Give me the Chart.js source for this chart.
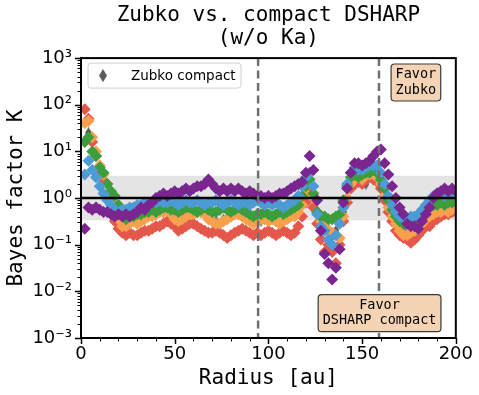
<!DOCTYPE html>
<html>
<head>
<meta charset="utf-8">
<script src="https://cdn.jsdelivr.net/npm/chart.js@4.4.1/dist/chart.umd.min.js"></script>
<style>
  html, body { margin: 0; padding: 0; background: #fff; }
</style>
</head>
<body>
<canvas id="bayesChart" width="479" height="395"></canvas>
<script>
// Radius grid [au] shared by the coloured series
const radius = [2,4,6,8,10,12,14,16,18,20,22,24,26,28,30,32,34,36,38,40,
  42,44,46,48,50,52,54,56,58,60,62,64,66,68,70,72,74,76,78,80,
  82,84,86,88,90,92,94,96,98,100,102,104,106,108,110,112,114,116,118,120,
  122,124,126,128,130,132,134,136,138,140,142,144,146,148,150,152,154,156,158,160,
  162,164,166,168,170,172,174,176,178,180,182,184,186,188,190,192,194,196,198,200];

// Bayes factor K per series
const redK = [80,50,16,8,4,2.2,1.1,0.56,0.32,0.22,
  0.18,0.16,0.18,0.16,0.16,0.18,0.2,0.2,0.22,0.25,
  0.25,0.28,0.32,0.28,0.25,0.2,0.22,0.25,0.28,0.28,
  0.25,0.22,0.2,0.18,0.18,0.2,0.18,0.16,0.14,0.16,
  0.18,0.2,0.22,0.2,0.18,0.16,0.18,0.16,0.18,0.2,
  0.18,0.16,0.18,0.2,0.18,0.16,0.18,0.25,0.4,0.8,
  1.25,0.63,0.28,0.13,0.07,0.1,0.07,0.04,0.1,0.32,
  0.8,1.6,2.0,2.2,2.0,2.5,2.8,2.5,2.2,1.6,
  0.9,0.5,0.32,0.2,0.16,0.14,0.13,0.11,0.13,0.16,
  0.2,0.25,0.25,0.32,0.35,0.4,0.45,0.45,0.5,0.5];

const orangeK = [40,45,20,10,5,3.2,2.0,1.25,0.71,0.35,
  0.25,0.25,0.28,0.32,0.28,0.32,0.35,0.4,0.4,0.45,
  0.5,0.5,0.56,0.45,0.35,0.32,0.35,0.4,0.45,0.45,
  0.5,0.5,0.45,0.35,0.32,0.28,0.28,0.32,0.35,0.4,
  0.45,0.45,0.4,0.35,0.32,0.28,0.32,0.35,0.35,0.32,
  0.35,0.32,0.28,0.32,0.35,0.4,0.4,0.5,0.71,1.25,
  2.0,1.0,0.5,0.32,0.25,0.2,0.18,0.16,0.14,0.4,
  1.0,2.0,2.5,2.8,2.5,3.2,3.2,3.2,2.8,2.0,
  1.1,0.63,0.4,0.28,0.2,0.16,0.16,0.18,0.2,0.22,
  0.28,0.35,0.4,0.45,0.5,0.5,0.56,0.5,0.56,0.63];

const greenK = [16,20,10,8,4.5,3.5,2.0,1.4,1.1,0.71,
  0.45,0.35,0.4,0.4,0.45,0.45,0.5,0.5,0.56,0.5,
  0.56,0.63,0.63,0.56,0.56,0.5,0.56,0.63,0.63,0.56,
  0.5,0.56,0.63,0.56,0.5,0.5,0.56,0.63,0.56,0.5,
  0.56,0.63,0.56,0.5,0.45,0.4,0.45,0.45,0.5,0.45,
  0.4,0.45,0.5,0.45,0.5,0.56,0.63,0.71,1.1,1.8,
  2.5,1.25,0.5,0.4,0.4,0.35,0.35,0.4,0.45,0.9,
  1.8,2.8,3.2,2.8,3.2,3.5,3.5,4.0,3.5,2.5,
  1.6,0.9,0.56,0.4,0.32,0.28,0.28,0.32,0.35,0.4,
  0.5,0.56,0.63,0.71,0.71,0.8,0.71,0.8,0.8,0.9];

const blueK = [3.2,6.3,4.0,2.8,1.8,1.25,0.9,0.71,0.56,0.5,
  0.56,0.56,0.63,0.63,0.71,0.71,0.8,0.71,0.8,0.8,
  0.9,0.8,0.8,0.9,0.8,0.71,0.8,0.9,0.8,0.8,
  0.9,0.8,0.71,0.8,0.8,0.9,0.8,0.71,0.8,0.9,
  0.8,0.71,0.8,0.8,0.71,0.8,0.9,0.8,0.71,0.8,
  0.71,0.8,0.71,0.63,0.71,0.8,0.9,1.1,1.8,2.8,
  3.5,1.8,0.45,0.25,0.2,0.13,0.1,0.16,0.28,0.63,
  2.0,3.5,4.5,4.0,4.0,4.5,5.0,5.0,5.0,3.5,
  2.0,1.1,0.71,0.5,0.4,0.35,0.35,0.4,0.4,0.45,
  0.56,0.71,0.9,1.1,1.25,1.25,1.1,1.25,1.25,1.1];

const purpleK = [0.22,0.63,0.56,0.63,0.56,0.5,0.5,0.45,0.4,0.45,
  0.4,0.45,0.4,0.45,0.5,0.63,0.56,0.71,0.8,1.0,
  1.1,1.25,1.1,1.25,1.4,1.25,1.4,1.6,1.4,1.6,
  1.8,1.8,2.0,2.5,2.0,1.6,1.4,1.6,1.4,1.6,
  1.4,1.6,1.4,1.25,1.4,1.25,1.1,1.1,1.0,1.1,
  1.0,1.1,1.25,1.25,1.4,1.6,1.8,2.0,2.2,3.5,
  8.0,4.0,0.9,0.2,0.063,0.04,0.018,0.032,0.08,0.8,
  1.6,3.5,5.6,5.6,5.0,5.6,6.3,8.0,10,11,
  5.6,3.2,1.8,1.0,0.63,0.45,0.28,0.25,0.25,0.22,
  0.32,0.45,0.63,1.0,1.25,1.4,1.6,1.4,1.6,1.4];

// Zubko compact (dark small diamonds, mostly hidden behind the others)
const blackRadius = [4,8,12,16,20,24,28,32,36,40,44,48,52,56,60,64,68,72,76,80,
  84,88,92,96,100,104,108,112,116,120,124,128,132,136,140,144,148,152,156,160,
  164,168,172,176,180,184,188,192,196,200];
const blackK = [25,10,2.8,1.25,0.5,0.28,0.32,0.35,0.4,0.45,
  0.5,0.45,0.35,0.45,0.45,0.5,0.4,0.32,0.35,0.4,
  0.45,0.35,0.32,0.32,0.35,0.32,0.32,0.4,0.56,1.25,
  1.0,0.32,0.22,0.2,0.5,1.8,2.2,2.0,2.5,1.8,
  0.63,0.32,0.2,0.2,0.25,0.35,0.45,0.45,0.5,0.56];

// reference lines / regions
const bandLow = 1 / 3;
const bandHigh = 3;
const unityK = 1;
const dashedRadii = [94.5, 159];
const yTickPowers = [-3, -2, -1, 0, 1, 2, 3];

// annotation boxes (data coordinates of their centres)
const notes = [
  { lines: ['Favor', 'Zubko'], x: 178.7, y: 300 },
  { lines: ['Favor', 'DSHARP compact'], x: 159.3, y: 0.0034 }
];

const SUP = { '-': '\u207B', '0': '\u2070', '1': '\u00B9', '2': '\u00B2', '3': '\u00B3' };

function toPoints(xs, ys) {
  return xs.map((r, i) => ({ x: r, y: ys[i] }));
}

function thinDiamond(w, h, fill) {
  const c = document.createElement('canvas');
  c.width = w; c.height = h;
  const g = c.getContext('2d');
  g.fillStyle = fill;
  g.beginPath();
  g.moveTo(w / 2, 0);
  g.lineTo(w, h / 2);
  g.lineTo(w / 2, h);
  g.lineTo(0, h / 2);
  g.closePath();
  g.fill();
  return c;
}

const blackMarker = thinDiamond(7, 11, 'rgba(55,55,55,0.85)');

function series(label, xs, ys, color, order) {
  return {
    label: label,
    data: toPoints(xs, ys),
    backgroundColor: color,
    borderWidth: 0,
    pointStyle: 'rectRot',
    pointRadius: 6,
    pointHoverRadius: 6,
    order: order
  };
}

function roundRect(ctx, x, y, w, h, r) {
  ctx.beginPath();
  ctx.moveTo(x + r, y);
  ctx.lineTo(x + w - r, y);
  ctx.arcTo(x + w, y, x + w, y + r, r);
  ctx.lineTo(x + w, y + h - r);
  ctx.arcTo(x + w, y + h, x + w - r, y + h, r);
  ctx.lineTo(x + r, y + h);
  ctx.arcTo(x, y + h, x, y + h - r, r);
  ctx.lineTo(x, y + r);
  ctx.arcTo(x, y, x + r, y, r);
  ctx.closePath();
}

const decorPlugin = {
  id: 'decor',
  beforeDatasetsDraw(chart) {
    const { ctx, chartArea: a, scales: { y } } = chart;
    const top = y.getPixelForValue(bandHigh);
    const bot = y.getPixelForValue(bandLow);
    ctx.save();
    ctx.fillStyle = '#e4e4e4';
    ctx.fillRect(a.left, top, a.right - a.left, bot - top);
    ctx.restore();
  },
  afterDatasetsDraw(chart) {
    const { ctx, chartArea: a, scales: { x, y } } = chart;
    ctx.save();
    // K = 1
    const y1 = y.getPixelForValue(unityK);
    ctx.strokeStyle = '#000';
    ctx.lineWidth = 2.5;
    ctx.beginPath();
    ctx.moveTo(a.left, y1);
    ctx.lineTo(a.right, y1);
    ctx.stroke();
    // dashed verticals
    ctx.strokeStyle = '#707070';
    ctx.lineWidth = 2.5;
    ctx.setLineDash([8, 4.5]);
    dashedRadii.forEach((r) => {
      const px = x.getPixelForValue(r);
      ctx.beginPath();
      ctx.moveTo(px, a.top);
      ctx.lineTo(px, a.bottom);
      ctx.stroke();
    });
    ctx.restore();
  },
  afterDraw(chart) {
    const { ctx, chartArea: a, scales: { x, y } } = chart;
    ctx.save();

    // ticks (outward, matplotlib style)
    ctx.strokeStyle = '#000';
    for (let v = 0; v <= 200; v += 10) {
      const px = Math.round(x.getPixelForValue(v)) + 0.5;
      const major = v % 50 === 0;
      ctx.lineWidth = major ? 1.5 : 1;
      ctx.beginPath();
      ctx.moveTo(px, a.bottom);
      ctx.lineTo(px, a.bottom + (major ? 6 : 3.5));
      ctx.stroke();
    }
    for (let p = -3; p <= 3; p++) {
      for (let m = 1; m <= 9; m++) {
        if (p === 3 && m > 1) break;
        const py = Math.round(y.getPixelForValue(m * Math.pow(10, p))) + 0.5;
        const major = m === 1;
        ctx.lineWidth = major ? 1.5 : 1;
        ctx.beginPath();
        ctx.moveTo(a.left, py);
        ctx.lineTo(a.left - (major ? 6 : 3.5), py);
        ctx.stroke();
      }
    }

    // spines
    ctx.lineWidth = 2;
    ctx.strokeRect(a.left, a.top, a.right - a.left, a.bottom - a.top);

    // legend
    const lx = a.left + 7, ly = a.top + 5, lw = 153, lh = 25;
    roundRect(ctx, lx, ly, lw, lh, 3);
    ctx.fillStyle = 'rgba(255,255,255,0.85)';
    ctx.fill();
    ctx.lineWidth = 1;
    ctx.strokeStyle = '#d0d0d0';
    ctx.stroke();
    const mk = thinDiamond(8, 13, '#5a5a5a');
    ctx.drawImage(mk, lx + 11, ly + lh / 2 - 6.5);
    ctx.fillStyle = '#000';
    ctx.font = '13.5px "DejaVu Sans"';
    ctx.textAlign = 'left';
    ctx.textBaseline = 'middle';
    ctx.fillText('Zubko compact', lx + 43, ly + lh / 2 + 0.5);

    // annotation boxes
    ctx.font = '13.5px "DejaVu Sans Mono"';
    ctx.textAlign = 'center';
    notes.forEach((n) => {
      const cx = x.getPixelForValue(n.x);
      const cy = y.getPixelForValue(n.y);
      const lineH = 15.5;
      const tw = Math.max(...n.lines.map((t) => ctx.measureText(t).width));
      const bw = tw + 9, bh = n.lines.length * lineH + 6;
      roundRect(ctx, cx - bw / 2, cy - bh / 2, bw, bh, 3.5);
      ctx.fillStyle = '#f5d3b5';
      ctx.fill();
      ctx.strokeStyle = '#3a3a3a';
      ctx.lineWidth = 1.2;
      ctx.stroke();
      ctx.fillStyle = '#000';
      n.lines.forEach((t, i) => {
        ctx.fillText(t, cx, cy + (i - (n.lines.length - 1) / 2) * lineH);
      });
    });
    ctx.restore();
  }
};

const ctx = document.getElementById('bayesChart');

new Chart(ctx, {
  type: 'scatter',
  data: {
    datasets: [
      series('purple', radius, purpleK, '#7b2590', 0),
      series('blue', radius, blueK, '#4b9bd5', 1),
      series('green', radius, greenK, '#3b9d3b', 2),
      series('orange', radius, orangeK, '#f8a04c', 3),
      series('red', radius, redK, '#e4584c', 4),
      {
        label: 'Zubko compact',
        data: toPoints(blackRadius, blackK),
        pointStyle: blackMarker,
        pointRadius: 5,
        order: 5
      }
    ]
  },
  options: {
    responsive: false,
    animation: false,
    devicePixelRatio: 1,
    layout: { padding: { left: 0, right: 21, top: 0, bottom: 0 } },
    plugins: {
      legend: { display: false },
      tooltip: { enabled: false },
      title: {
        display: true,
        fullSize: false,
        text: ['Zubko vs. compact DSHARP', '(w/o Ka)'],
        color: '#000',
        font: { family: '"DejaVu Sans Mono"', size: 21, weight: 'normal', lineHeight: 1.05 },
        padding: { top: 5, bottom: 9 }
      }
    },
    scales: {
      x: {
        type: 'linear',
        min: 0,
        max: 200,
        grid: { display: false, drawTicks: false },
        border: { display: false },
        ticks: {
          stepSize: 50,
          color: '#000',
          padding: 6,
          font: { family: '"DejaVu Sans"', size: 18 }
        },
        title: {
          display: true,
          text: 'Radius [au]',
          color: '#000',
          font: { family: '"DejaVu Sans Mono"', size: 21 },
          padding: { top: 0, bottom: 4 }
        },
        afterFit: (scale) => { scale.height = 57; }
      },
      y: {
        type: 'logarithmic',
        min: 1e-3,
        max: 1e3,
        grid: { display: false, drawTicks: false },
        border: { display: false },
        afterBuildTicks: (scale) => {
          scale.ticks = yTickPowers.map((p) => ({ value: Math.pow(10, p), major: true }));
        },
        ticks: {
          autoSkip: false,
          color: '#000',
          padding: 9,
          font: { family: '"DejaVu Sans"', size: 18 },
          callback: (value) => {
            const p = Math.round(Math.log10(value));
            return '10' + String(p).split('').map((c) => SUP[c]).join('');
          }
        },
        title: {
          display: true,
          text: 'Bayes factor K',
          color: '#000',
          font: { family: '"DejaVu Sans Mono"', size: 21 },
          padding: { top: 4, bottom: 0 }
        },
        afterFit: (scale) => { scale.width = 81; }
      }
    }
  },
  plugins: [decorPlugin]
});
</script>
</body>
</html>
